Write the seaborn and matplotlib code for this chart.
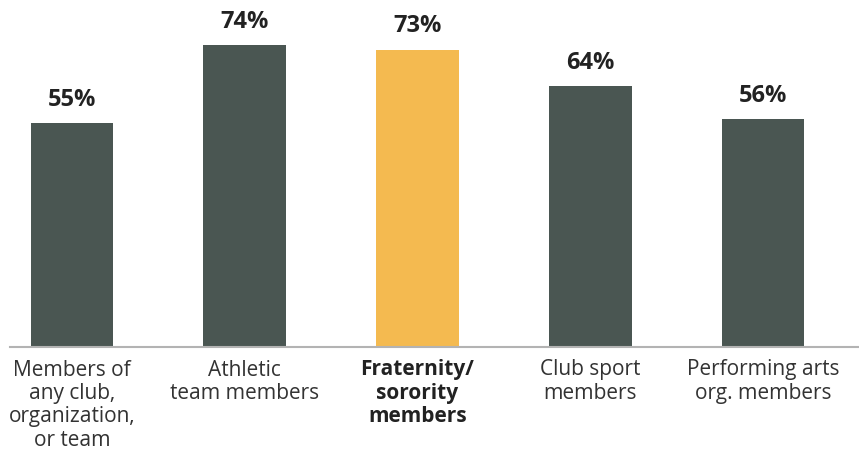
import matplotlib
matplotlib.use("Agg")
import matplotlib.pyplot as plt
from matplotlib import font_manager as fm
import seaborn as sns
import pandas as pd

# Data
categories = [
    "Members of\nany club,\norganization,\nor team",
    "Athletic\nteam members",
    "Fraternity/\nsorority\nmembers",
    "Club sport\nmembers",
    "Performing arts\norg. members",
]
values = [55, 74, 73, 64, 56]
colors = ["#4a5652", "#4a5652", "#f4ba50", "#4a5652", "#4a5652"]

# drop variable Open Sans files so the static regular/bold cuts are used
fm.fontManager.ttflist = [f for f in fm.fontManager.ttflist
                          if not (f.name == "Open Sans" and "[" in f.fname)]

sns.set_style("white")
plt.rcParams["font.family"] = ["Open Sans", "DejaVu Sans"]

df = pd.DataFrame({"cat": categories, "val": values})

fig = plt.figure(figsize=(8.59, 4.51), dpi=100)
ax = fig.add_axes([10 / 859, 1 - 347 / 451, 849 / 859, 347 / 451])

sns.barplot(data=df, x="cat", y="val", hue="cat", palette=colors,
            width=0.48, legend=False, saturation=1, linewidth=0, ax=ax)

ax.set_xlim(-0.359, 4.556)
ax.set_ylim(0, 85.15)

for cont in ax.containers:
    ax.bar_label(cont, fmt="%d%%", padding=8, fontsize=17, fontweight="bold",
                 color="#222222")

ax.set_xlabel("")
ax.set_ylabel("")
ax.set_yticks([])
ax.tick_params(axis="x", length=0, pad=9, labelsize=15, labelcolor="#333333")
for i, lab in enumerate(ax.get_xticklabels()):
    lab.set_linespacing(1.15)
    if i == 2:
        lab.set_fontweight("bold")
        lab.set_color("#222222")

sns.despine(ax=ax, left=True, top=True, right=True)
ax.spines["bottom"].set_color("#b3b3b3")
ax.spines["bottom"].set_linewidth(1.5)

fig.savefig("out.png", dpi=100)
